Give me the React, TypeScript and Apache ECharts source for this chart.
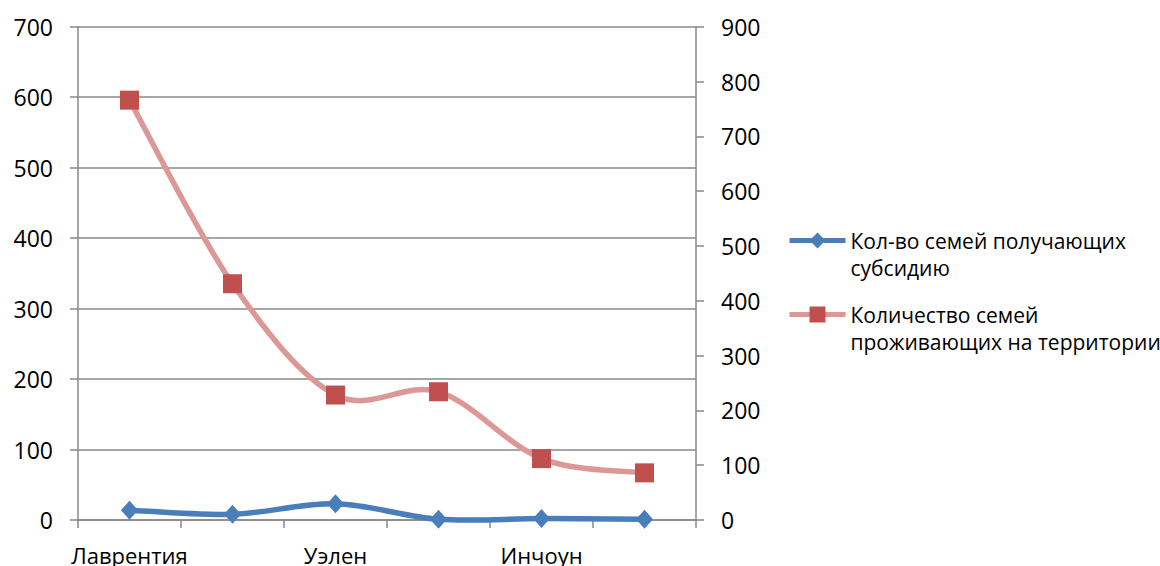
import React, { useEffect, useRef } from "react";
import * as echarts from "echarts";

const categories = ["Лаврентия", "Лорино", "Уэлен", "Нешкан", "Инчоун", "Энурмино"];
const subsidyFamilies = [14, 8, 23, 1, 2, 1];
const residentFamilies = [766, 431, 228, 234, 112, 86];
const leftTicks = { min: 0, max: 700, interval: 100 };
const rightTicks = { min: 0, max: 900, interval: 100 };
const seriesNames = [
  "Кол-во семей получающих\nсубсидию",
  "Количество семей\nпроживающих на территории",
];

const FONT = "Open Sans";
const AXIS_COLOR = "#898989";
const BLUE = "#4a7ebb";
const PINK = "#dc9896";
const RED = "#c0504d";

// Smoothed line (Catmull-Rom style, as in spreadsheet charts) drawn through the axes' scales
function makeCurve(id: string, values: number[], color: string, yAxisIndex: number) {
  const n = values.length;
  const clamp = (k: number) => Math.max(0, Math.min(n - 1, k));
  return {
    id,
    type: "custom",
    yAxisIndex,
    silent: true,
    z: 1,
    data: values.map((v, i) => [i, v]),
    encode: { x: 0, y: 1 },
    renderItem: (params: any, api: any) => {
      const i = params.dataIndex;
      if (i >= n - 1) return null;
      const p = (k: number) => {
        const c = clamp(k);
        return api.coord([c, values[c]]);
      };
      const p0 = p(i - 1);
      const p1 = p(i);
      const p2 = p(i + 1);
      const p3 = p(i + 2);
      const t = 1 / 6;
      return {
        type: "bezierCurve",
        shape: {
          x1: p1[0],
          y1: p1[1],
          cpx1: p1[0] + (p2[0] - p0[0]) * t,
          cpy1: p1[1] + (p2[1] - p0[1]) * t,
          cpx2: p2[0] - (p3[0] - p1[0]) * t,
          cpy2: p2[1] - (p3[1] - p1[1]) * t,
          x2: p2[0],
          y2: p2[1],
        },
        style: { stroke: color, lineWidth: 5.5, fill: "none", lineCap: "round" },
      };
    },
  };
}

export default function App() {
  const ref = useRef<HTMLDivElement>(null);

  useEffect(() => {
    if (!ref.current) return;
    const chart = echarts.init(ref.current, undefined, { renderer: "svg" });
    const axisLabelStyle = { color: "#000", fontFamily: FONT, fontSize: 22 };
    chart.setOption({
      animation: false,
      backgroundColor: "#fff",
      textStyle: { fontFamily: FONT },
      grid: { left: 78, right: 464, top: 26.7, bottom: 45.3, containLabel: false },
      legend: {
        orient: "vertical",
        left: 787,
        top: 200,
        padding: 0,
        itemGap: -7,
        itemWidth: 56,
        itemHeight: 20,
        data: seriesNames,
        formatter: (name: string) => "\n" + name,
        lineStyle: { width: 5, opacity: 1 },
        textStyle: {
          color: "#000",
          fontFamily: FONT,
          fontSize: 21,
          lineHeight: 27,
        },
      },
      xAxis: {
        type: "category",
        data: categories,
        boundaryGap: true,
        axisLine: { show: true, lineStyle: { color: AXIS_COLOR, width: 1.5 } },
        axisTick: { show: true, interval: 0, length: 8, lineStyle: { color: AXIS_COLOR, width: 1.5 } },
        axisLabel: { ...axisLabelStyle, interval: 1, margin: 24 },
        splitLine: { show: false },
      },
      yAxis: [
        {
          type: "value",
          position: "left",
          ...leftTicks,
          axisLine: { show: true, lineStyle: { color: AXIS_COLOR, width: 1.5 } },
          axisTick: { show: true, length: 8, lineStyle: { color: AXIS_COLOR, width: 1.5 } },
          axisLabel: { ...axisLabelStyle, fontSize: 23, margin: 25 },
          splitLine: { show: true, lineStyle: { color: AXIS_COLOR, width: 1.5 } },
        },
        {
          type: "value",
          position: "right",
          ...rightTicks,
          axisLine: { show: true, lineStyle: { color: AXIS_COLOR, width: 1.5 } },
          axisTick: { show: true, length: 8, lineStyle: { color: AXIS_COLOR, width: 1.5 } },
          axisLabel: { ...axisLabelStyle, fontSize: 23, margin: 25 },
          splitLine: { show: false },
        },
      ],
      series: [
        makeCurve("curve-subsidy", subsidyFamilies, BLUE, 0),
        makeCurve("curve-resident", residentFamilies, PINK, 1),
        {
          name: seriesNames[0],
          type: "line",
          yAxisIndex: 0,
          z: 3,
          data: subsidyFamilies,
          symbol: "diamond",
          symbolSize: [17, 19],
          lineStyle: { color: BLUE, width: 0 },
          itemStyle: { color: BLUE },
        },
        {
          name: seriesNames[1],
          type: "line",
          yAxisIndex: 1,
          z: 3,
          data: residentFamilies,
          symbol: "rect",
          symbolSize: 19,
          lineStyle: { color: PINK, width: 0 },
          itemStyle: { color: RED },
        },
      ],
    });
    return () => chart.dispose();
  }, []);

  return (
    <div
      ref={ref}
      style={{ position: "absolute", left: 0, top: 0, width: 1160, height: 566 }}
    />
  );
}
